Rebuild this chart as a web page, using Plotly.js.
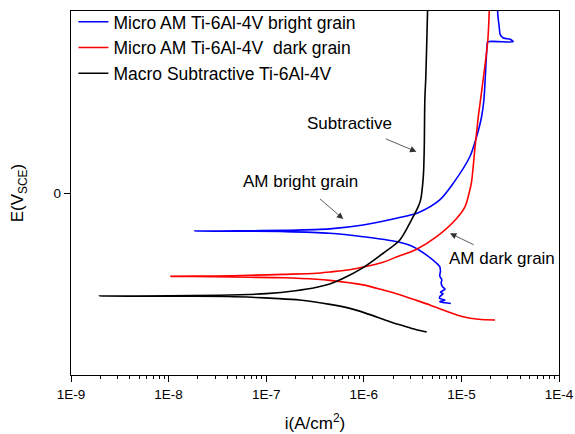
<!DOCTYPE html>
<html>
<head>
<meta charset="utf-8">
<script src="https://cdn.plot.ly/plotly-3.0.1.min.js"></script>
<style>
  html, body { margin: 0; padding: 0; background: #fff; }
  #chart { width: 575px; height: 434px; }
</style>
</head>
<body>
<div id="chart"></div>
<script>
// ---- Data (current density A/cm^2, potential V vs SCE) ----
const seriesNames = [
  'Micro AM Ti-6Al-4V bright grain',
  'Micro AM Ti-6Al-4V  dark grain',
  'Macro Subtractive Ti-6Al-4V'
];

// bright grain (blue): cathodic end -> corrosion point -> anodic
const brightI = [7.8e-6, 6.8e-6, 6.0e-6, 6.8e-6, 6.0e-6, 6.0e-6, 6.5e-6, 6.1e-6, 6.8e-6, 6.4e-6, 6.2e-6, 6.3e-6, 6.0e-6, 6.1e-6, 6.0e-6, 5.57e-6, 4.4e-6, 3.2e-6, 2.16e-6, 9.84e-7, 4.48e-7, 1.58e-7, 5.0e-8, 1.85e-8,
  5.0e-8, 1.58e-7, 4.48e-7, 9.84e-7, 2.16e-6, 3.61e-6, 6.0e-6, 8.24e-6, 1.22e-5, 1.43e-5, 1.61e-5, 1.70e-5, 1.84e-5, 1.86e-5, 3.40e-5, 3.30e-5, 3.16e-5, 2.69e-5, 2.50e-5, 2.44e-5, 2.38e-5, 2.35e-5, 2.35e-5];
const brightE = [-0.607, -0.603, -0.597, -0.588, -0.580, -0.570, -0.553, -0.545, -0.528, -0.515, -0.495, -0.478, -0.455, -0.430, -0.405, -0.386, -0.341, -0.295, -0.267, -0.240, -0.221, -0.212, -0.210, -0.209,
  -0.208, -0.205, -0.197, -0.176, -0.139, -0.108, -0.038, 0.053, 0.199, 0.309, 0.419, 0.511, 0.822, 0.831, 0.831, 0.838, 0.845, 0.852, 0.870, 0.913, 0.960, 1.000, 1.050];

// dark grain (red)
const darkI = [2.21e-5, 1.5e-5, 1.04e-5, 6.5e-6, 4.75e-6, 3.48e-6, 2.16e-6, 1.58e-6, 9.84e-7, 4.48e-7, 3.27e-7, 1.5e-7, 6.78e-8, 3.0e-8, 1.05e-8,
  3.0e-8, 6.78e-8, 1.5e-7, 3.27e-7, 4.48e-7, 7.18e-7, 9.84e-7, 1.58e-6, 2.16e-6, 3.48e-6, 5.57e-6, 8.93e-6, 1.09e-5, 1.20e-5, 1.27e-5, 1.37e-5, 1.49e-5, 1.56e-5, 1.86e-5, 1.93e-5, 1.95e-5];
const darkE = [-0.698, -0.694, -0.680, -0.643, -0.615, -0.590, -0.553, -0.533, -0.505, -0.480, -0.474, -0.466, -0.463, -0.460, -0.458,
  -0.456, -0.452, -0.447, -0.441, -0.434, -0.422, -0.407, -0.380, -0.352, -0.309, -0.240, -0.140, -0.075, 0.000, 0.060, 0.236, 0.419, 0.500, 0.831, 1.000, 1.050];

// subtractive (black)
const subI = [4.41e-6, 3.4e-6, 2.45e-6, 1.85e-6, 1.04e-6, 7.2e-7, 4.5e-7, 2.2e-7, 1.2e-7, 7.8e-8, 4.0e-8, 1.0e-8, 1.96e-9,
  1.0e-8, 3.3e-8, 1.0e-7, 2.0e-7, 3.3e-7, 4.48e-7, 6.1e-7, 9.84e-7, 1.58e-6, 2.34e-6, 3.08e-6, 3.61e-6, 3.82e-6, 4.07e-6, 4.16e-6, 4.22e-6, 4.32e-6, 4.5e-6, 4.52e-6];
const subE = [-0.764, -0.750, -0.727, -0.707, -0.660, -0.634, -0.612, -0.588, -0.579, -0.574, -0.569, -0.567, -0.566,
  -0.565, -0.562, -0.553, -0.537, -0.518, -0.500, -0.470, -0.410, -0.331, -0.258, -0.148, -0.075, -0.038, 0.090, 0.236, 0.509, 0.639, 1.000, 1.050];

const xTickVals = [1e-9, 1e-8, 1e-7, 1e-6, 1e-5, 1e-4];
const xTickText = ['1E-9', '1E-8', '1E-7', '1E-6', '1E-5', '1E-4'];
const yTickVals = [0];
const yTickText = ['0'];

const annoTexts = ['Subtractive', 'AM bright grain', 'AM dark grain'];

// minor ticks 2..9 per decade
const minorVals = [];
for (let k = 0; k < xTickVals.length - 1; k++) {
  for (let m = 2; m <= 9; m++) minorVals.push(m * xTickVals[k]);
}

const FONT = 'Liberation Sans, Arial, sans-serif';

const traces = [
  { x: brightI, y: brightE, name: seriesNames[0], mode: 'lines', line: { color: '#0000ff', width: 1.6, shape: 'spline', smoothing: 0.8 } },
  { x: darkI,   y: darkE,   name: seriesNames[1], mode: 'lines', line: { color: '#ff0000', width: 1.6, shape: 'spline', smoothing: 0.8 } },
  { x: subI,    y: subE,    name: seriesNames[2], mode: 'lines', line: { color: '#000000', width: 1.6, shape: 'spline', smoothing: 0.8 } }
];

const annoFont = { family: FONT, size: 17, color: '#000' };
const arrowStyle = { showarrow: true, arrowhead: 2, arrowsize: 1.6, arrowwidth: 0.8, arrowcolor: '#333', axref: 'pixel', ayref: 'pixel' };

const layout = {
  width: 575, height: 434,
  margin: { l: 71, r: 16, t: 11, b: 59, autoexpand: false },
  paper_bgcolor: '#ffffff', plot_bgcolor: '#ffffff',
  font: { family: FONT, size: 17, color: '#000' },
  showlegend: true,
  legend: {
    xref: 'paper', yref: 'container',
    x: 0.005, y: 0.991, xanchor: 'left', yanchor: 'top',
    bgcolor: 'rgba(0,0,0,0)', borderwidth: 0,
    font: { family: FONT, size: 17.5, color: '#000' },
    tracegroupgap: 0, itemwidth: 30
  },
  xaxis: {
    type: 'log', range: [-9, -4],
    tickmode: 'array', tickvals: xTickVals, ticktext: xTickText,
    ticks: 'outside', ticklen: 6, tickwidth: 1, tickcolor: '#000',
    tickfont: { family: FONT, size: 13.5, color: '#000' },
    minor: { tickmode: 'array', tickvals: minorVals, ticks: 'outside', ticklen: 3, tickwidth: 1, tickcolor: '#000', showgrid: false },
    showline: true, linecolor: '#000', linewidth: 1.3, mirror: true,
    showgrid: false, zeroline: false,
    title: { text: 'i(A/cm<sup>2</sup>)', font: { family: FONT, size: 17, color: '#000' }, standoff: 16 }
  },
  yaxis: {
    range: [-1, 1],
    tickmode: 'array', tickvals: yTickVals, ticktext: yTickText,
    ticks: 'outside', ticklen: 6, tickwidth: 1, tickcolor: '#000',
    tickfont: { family: FONT, size: 13.5, color: '#000' },
    showline: true, linecolor: '#000', linewidth: 1.3, mirror: true,
    showgrid: false, zeroline: false,
    title: { text: 'E(V<sub>SCE</sub>)', font: { family: FONT, size: 17, color: '#000' }, standoff: 25 }
  },
  annotations: [
    Object.assign({ xref: 'paper', yref: 'paper', x: 0.7078, y: 0.6135, text: annoTexts[0], ax: -67, ay: -28, startstandoff: 11, font: annoFont }, arrowStyle),
    Object.assign({ xref: 'paper', yref: 'paper', x: 0.5580, y: 0.4286, text: annoTexts[1], ax: -43, ay: -37, startstandoff: 9, font: annoFont }, arrowStyle),
    Object.assign({ xref: 'paper', yref: 'paper', x: 0.7766, y: 0.3893, text: annoTexts[2], ax: 52, ay: 25, startstandoff: 6, font: annoFont }, arrowStyle)
  ]
};

Plotly.newPlot('chart', traces, layout, { displayModeBar: false, staticPlot: true });
</script>
</body>
</html>
